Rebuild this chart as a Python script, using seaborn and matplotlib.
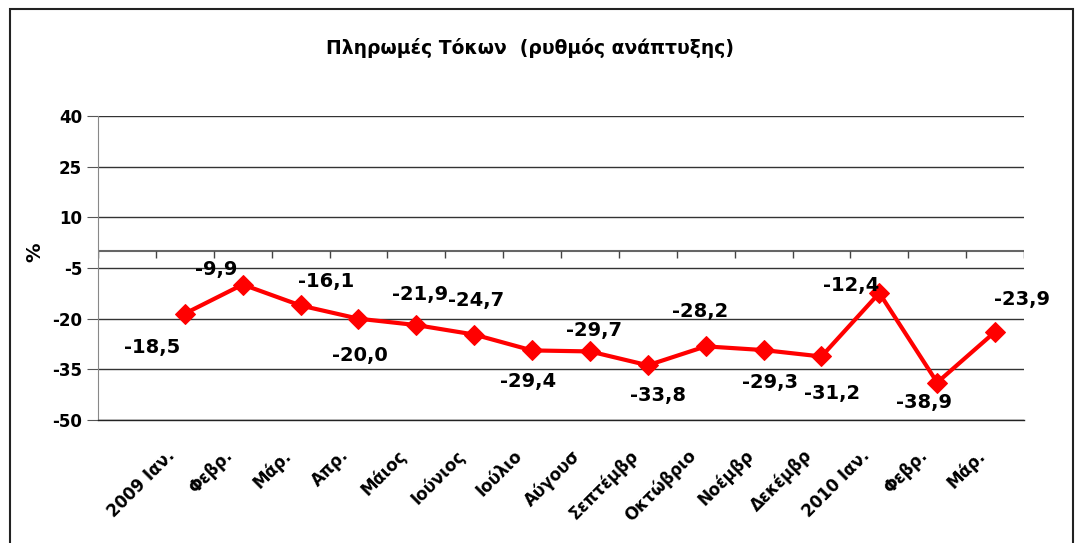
import numpy as np
import pandas as pd
import seaborn as sns
import matplotlib.pyplot as plt
from matplotlib.patches import Rectangle
from matplotlib.transforms import ScaledTranslation

# data
months = ["2009 Ιαν.", "Φεβρ.", "Μάρ.", "Απρ.", "Μάιος", "Ιούνιος", "Ιούλιο",
          "Αύγουσ", "Σεπτέμβρ", "Οκτώβριο", "Νοέμβρ", "Δεκέμβρ", "2010 Ιαν.",
          "Φεβρ.", "Μάρ."]
growth = [-18.5, -9.9, -16.1, -20.0, -21.9, -24.7, -29.4, -29.7, -33.8,
          -28.2, -29.3, -31.2, -12.4, -38.9, -23.9]
y_ticks = [40, 25, 10, -5, -20, -35, -50]

# where each value label sits relative to its point (pixels)
label_offsets = [(-33, -34), (-27, 15), (26, 24), (1, -37), (4, 31), (2, 34),
                 (-4, -31), (4, 21), (10, -30), (-6, 35), (6, -32), (11, -37),
                 (-28, 7), (-13, -20), (27, 32)]

df = pd.DataFrame({"month": months, "growth": growth})
df["pos"] = np.arange(len(df))

sns.set_style("white")
plt.rcParams["font.family"] = ["DejaVu Sans"]
plt.rcParams["font.weight"] = "bold"
plt.rcParams["text.color"] = "black"
plt.rcParams["xtick.color"] = "black"
plt.rcParams["ytick.color"] = "black"
plt.rcParams["axes.labelcolor"] = "black"
plt.rcParams["axes.unicode_minus"] = False

fig = plt.figure(figsize=(10.77, 5.43), dpi=100)
ax = fig.add_axes([98 / 1077, 1 - 420 / 543, 926 / 1077, 304 / 543])

sns.lineplot(data=df, x="pos", y="growth", color="#ff0000", lw=3,
             marker="D", markersize=10, markeredgecolor="#ff0000", ax=ax)

for (_, row), off in zip(df.iterrows(), label_offsets):
    ax.annotate(f"{row.growth:.1f}".replace(".", ","), (row.pos, row.growth),
                xytext=off, textcoords="offset pixels", ha="center",
                va="center", fontsize=14, fontweight="bold")

ax.set_xlim(-1.5, len(months) - 0.5)
ax.set_ylim(-50, 40)
ax.set_yticks(y_ticks)
ax.yaxis.grid(True, color="#333333", lw=1)
ax.tick_params(axis="y", left=True, length=8, color="#555555", labelsize=12)

# zero line with category separators
ax.axhline(0, color="#666666", lw=1.5, zorder=1)
ax.vlines(np.arange(-1.5, len(months)), -2.1, 0, color="#444444", lw=1)

ax.set_xticks(df["pos"])
ax.set_xticklabels(months, rotation=45, ha="right", rotation_mode="anchor",
                   fontsize=12)
ax.tick_params(axis="x", length=0, pad=19)
shift = ScaledTranslation(-0.19, 0, fig.dpi_scale_trans)
for lbl in ax.get_xticklabels():
    lbl.set_transform(lbl.get_transform() + shift)
ax.set_xlabel("")
ax.set_ylabel("%", fontsize=14, fontweight="bold")
ax.yaxis.set_label_coords(-0.058, 0.553)

for side in ["top", "right"]:
    ax.spines[side].set_visible(False)
ax.spines["left"].set_color("#888888")
ax.spines["bottom"].set_color("#222222")
ax.spines["bottom"].set_linewidth(1)

fig.text(530 / 1077, 1 - 48 / 543, "Πληρωμές Τόκων  (ρυθμός ανάπτυξης)",
         ha="center", va="center", fontsize=13.5, fontweight="bold")

fig.add_artist(Rectangle((10 / 1077, -0.05), 1063 / 1077, 1.05 - 9 / 543,
                         transform=fig.transFigure, fill=False,
                         ec="#222222", lw=1.5))

fig.savefig("out.png", dpi=100)
